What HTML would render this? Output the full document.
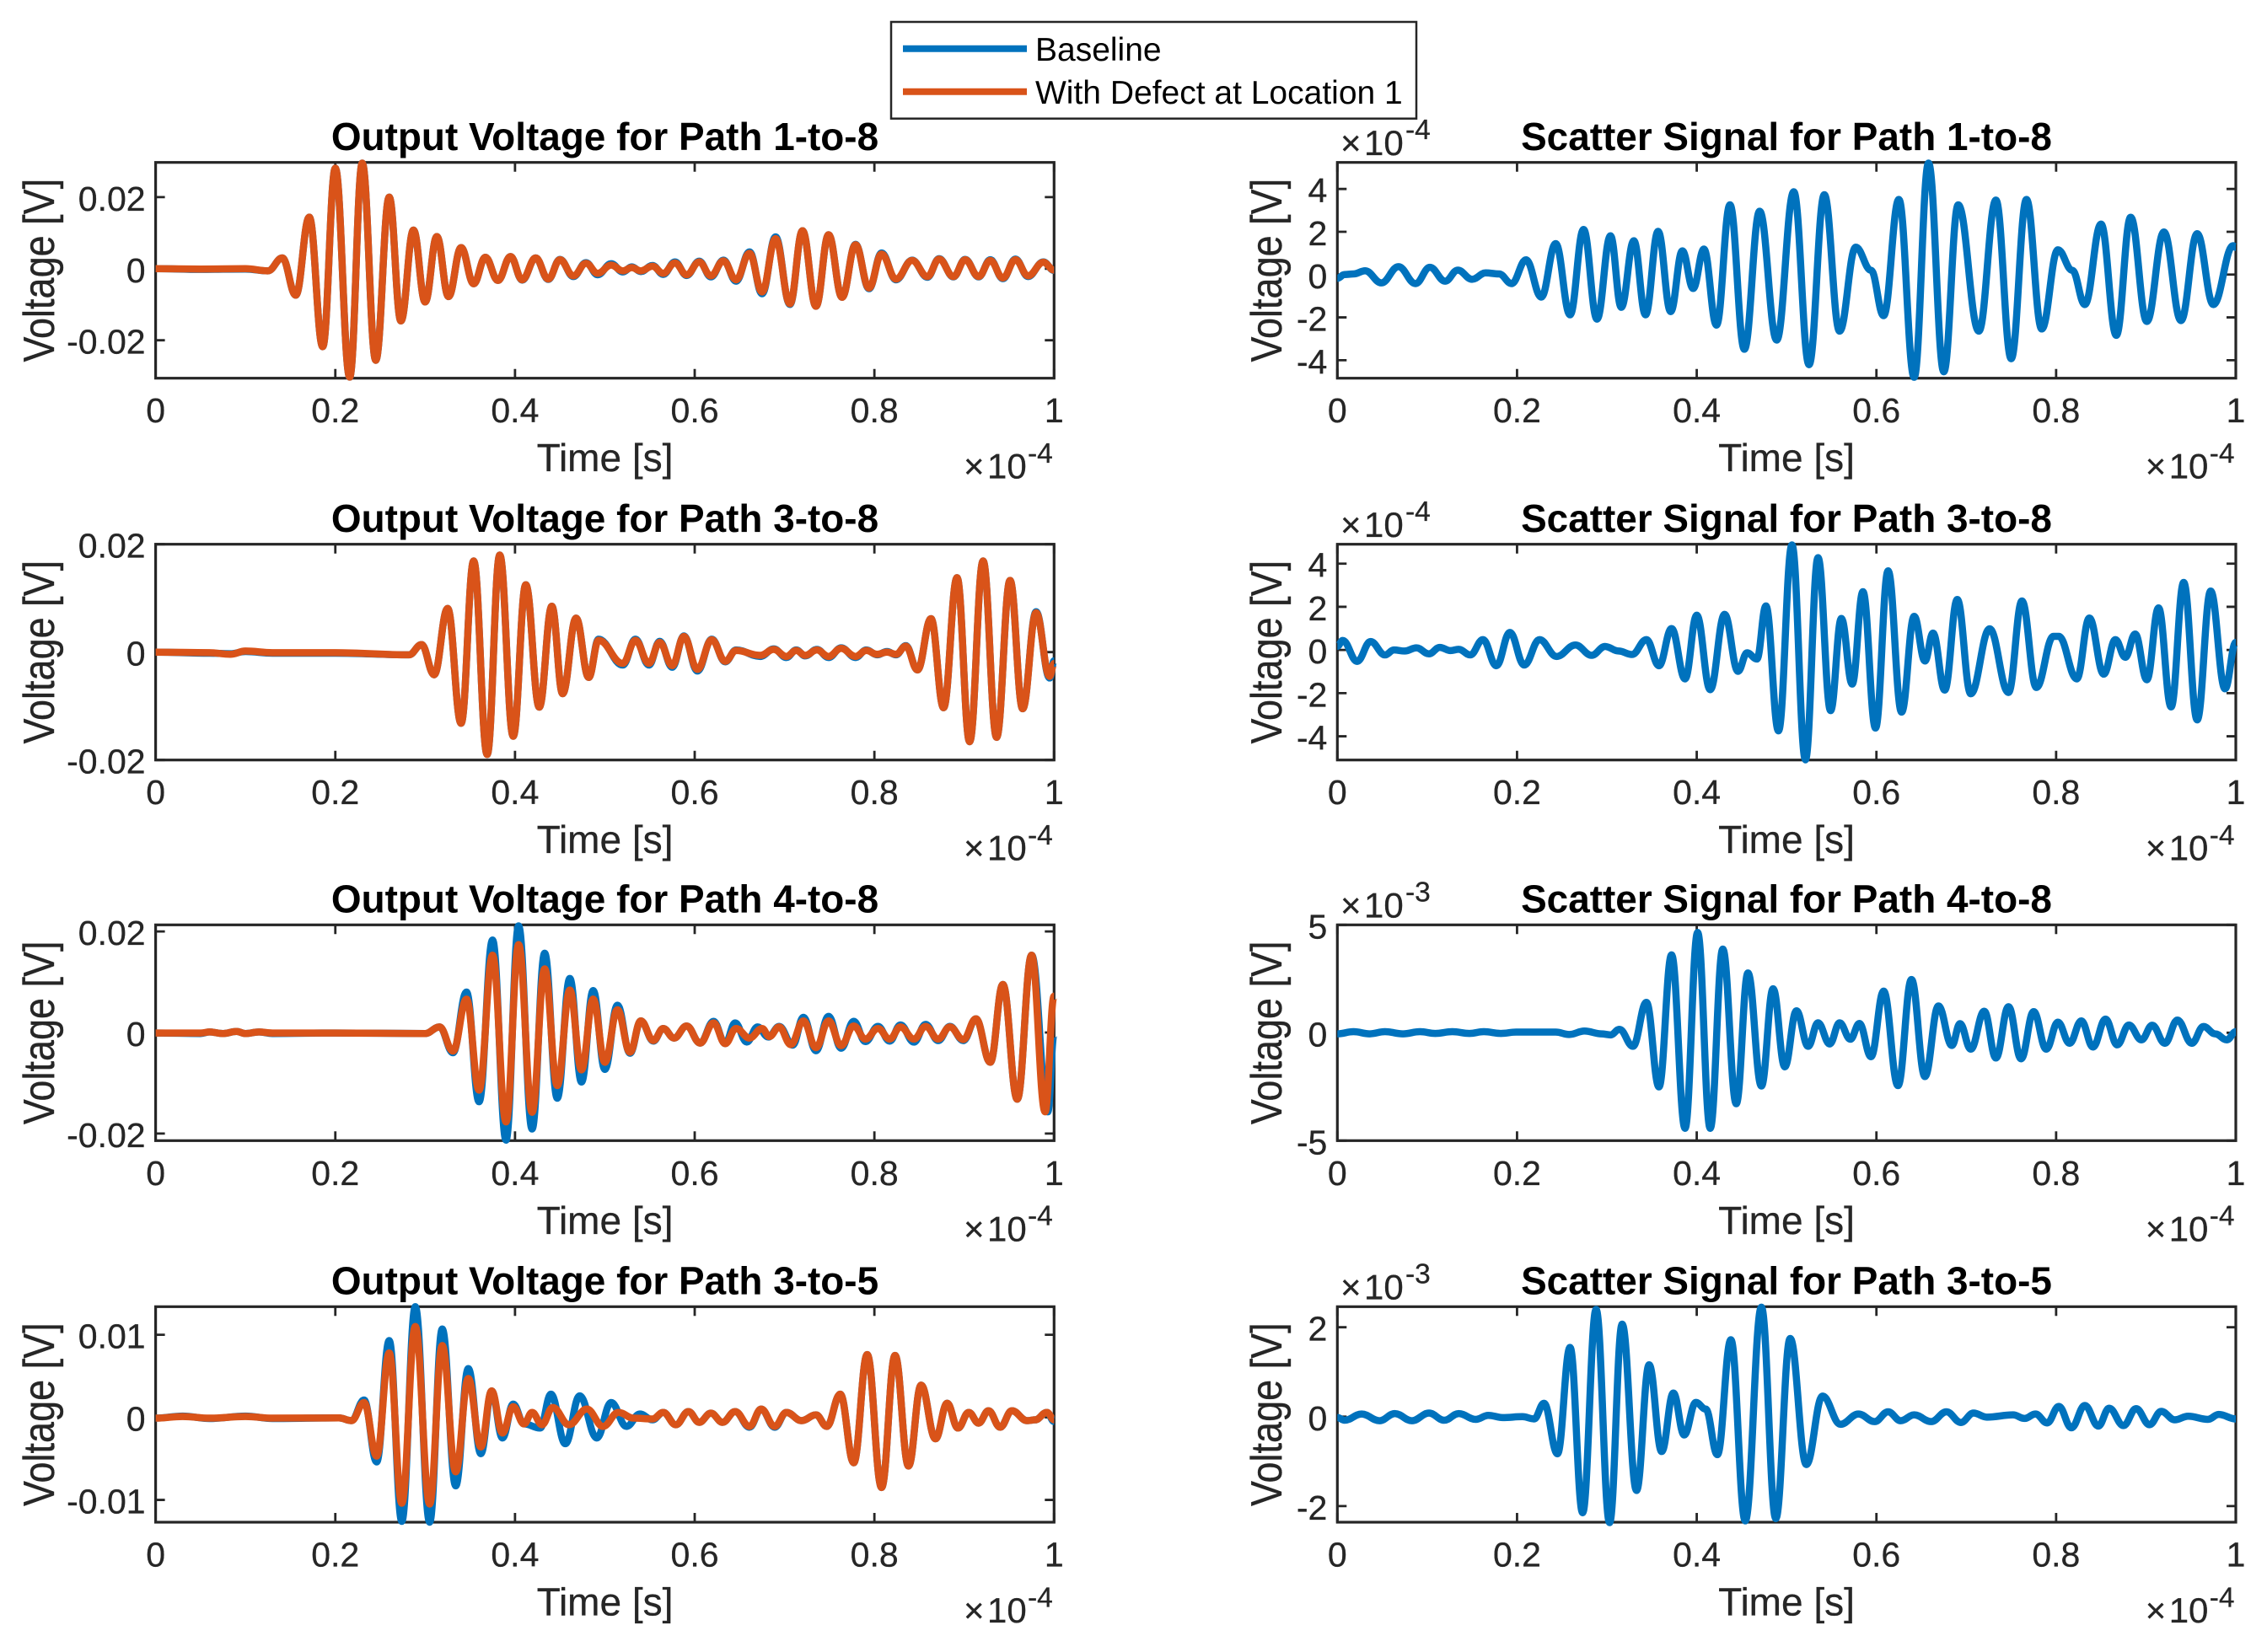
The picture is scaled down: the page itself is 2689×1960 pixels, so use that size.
<!DOCTYPE html>
<html lang="en">
<head>
<meta charset="utf-8">
<title>Output Voltage and Scatter Signal by Path</title>
<style>
html,body{margin:0;padding:0;background:#fff;}
svg{display:block;font-family:"Liberation Sans",Arial,sans-serif;}
.title{font-size:45.9px;font-weight:bold;fill:#000;text-anchor:middle;}
.xlab{font-size:46px;fill:#262626;text-anchor:middle;stroke:#262626;stroke-width:.3px;}
.ylab{font-size:45px;fill:#262626;text-anchor:middle;stroke:#262626;stroke-width:.3px;}
.mag{font-size:42px;fill:#262626;stroke:#262626;stroke-width:.3px;}
.magexp{font-size:33.5px;fill:#262626;stroke:#262626;stroke-width:.3px;}
.leg{font-size:39px;fill:#000;}
.tick{font-size:41px;fill:#262626;stroke:#262626;stroke-width:.3px;}
</style>
</head>
<body>
<svg id="figure" width="2689" height="1960" viewBox="0 0 2689 1960" xmlns="http://www.w3.org/2000/svg">
<rect x="0" y="0" width="2689" height="1960" fill="#fff"/>
<g id="plots"></g>

<g>
<text class="title" x="717.5" y="178">Output Voltage for Path 1-to-8</text>
<text class="title" x="717.5" y="631">Output Voltage for Path 3-to-8</text>
<text class="title" x="717.5" y="1082.6">Output Voltage for Path 4-to-8</text>
<text class="title" x="717.5" y="1535.6">Output Voltage for Path 3-to-5</text>

<text class="xlab" x="717.5" y="559.2">Time [s]</text>
<text class="xlab" x="717.5" y="1012.2">Time [s]</text>
<text class="xlab" x="717.5" y="1463.8">Time [s]</text>
<text class="xlab" x="717.5" y="1916.5">Time [s]</text>

<text class="ylab" transform="translate(64 320.7) rotate(-90) scale(1 1.15)">Voltage [V]</text>
<text class="ylab" transform="translate(64 773.7) rotate(-90) scale(1 1.15)">Voltage [V]</text>
<text class="ylab" transform="translate(64 1225.3) rotate(-90) scale(1 1.15)">Voltage [V]</text>
<text class="ylab" transform="translate(64 1678.2) rotate(-90) scale(1 1.15)">Voltage [V]</text>

<g><text class="mag" x="1143" y="567.7">×<tspan x="1171">10</tspan></text><text class="magexp" x="1219" y="549">-4</text></g>
<g><text class="mag" x="1143" y="1020.7">×<tspan x="1171">10</tspan></text><text class="magexp" x="1219" y="1002">-4</text></g>
<g><text class="mag" x="1143" y="1472.3">×<tspan x="1171">10</tspan></text><text class="magexp" x="1219" y="1453.6">-4</text></g>
<g><text class="mag" x="1143" y="1925">×<tspan x="1171">10</tspan></text><text class="magexp" x="1219" y="1906.3">-4</text></g>
</g>

<g>
<text class="title" x="2119" y="178">Scatter Signal for Path 1-to-8</text>
<text class="title" x="2119" y="631">Scatter Signal for Path 3-to-8</text>
<text class="title" x="2119" y="1082.6">Scatter Signal for Path 4-to-8</text>
<text class="title" x="2119" y="1535.6">Scatter Signal for Path 3-to-5</text>

<text class="xlab" x="2119" y="559.2">Time [s]</text>
<text class="xlab" x="2119" y="1012.2">Time [s]</text>
<text class="xlab" x="2119" y="1463.8">Time [s]</text>
<text class="xlab" x="2119" y="1916.5">Time [s]</text>

<text class="ylab" transform="translate(1520 320.7) rotate(-90) scale(1 1.15)">Voltage [V]</text>
<text class="ylab" transform="translate(1520 773.7) rotate(-90) scale(1 1.15)">Voltage [V]</text>
<text class="ylab" transform="translate(1520 1225.3) rotate(-90) scale(1 1.15)">Voltage [V]</text>
<text class="ylab" transform="translate(1520 1678.2) rotate(-90) scale(1 1.15)">Voltage [V]</text>

<g><text class="mag" x="2544.7" y="567.7">×<tspan x="2572.7">10</tspan></text><text class="magexp" x="2620.7" y="549">-4</text></g>
<g><text class="mag" x="2544.7" y="1020.7">×<tspan x="2572.7">10</tspan></text><text class="magexp" x="2620.7" y="1002">-4</text></g>
<g><text class="mag" x="2544.7" y="1472.3">×<tspan x="2572.7">10</tspan></text><text class="magexp" x="2620.7" y="1453.6">-4</text></g>
<g><text class="mag" x="2544.7" y="1925">×<tspan x="2572.7">10</tspan></text><text class="magexp" x="2620.7" y="1906.3">-4</text></g>

<g><text class="mag" x="1590" y="184">×<tspan x="1618">10</tspan></text><text class="magexp" x="1667" y="165">-4</text></g>
<g><text class="mag" x="1590" y="637">×<tspan x="1618">10</tspan></text><text class="magexp" x="1667" y="618">-4</text></g>
<g><text class="mag" x="1590" y="1088.6">×<tspan x="1618">10</tspan></text><text class="magexp" x="1667" y="1069.6">-3</text></g>
<g><text class="mag" x="1590" y="1541.6">×<tspan x="1618">10</tspan></text><text class="magexp" x="1667" y="1522.6">-3</text></g>
</g>

<g>
<rect x="1057" y="26" width="623" height="114.7" fill="#fff" stroke="#262626" stroke-width="2.5"/>
<line x1="1071" y1="57.7" x2="1218" y2="57.7" stroke="#0072BD" stroke-width="8"/>
<line x1="1071" y1="108.7" x2="1218" y2="108.7" stroke="#D95319" stroke-width="8"/>
<text class="leg" x="1228" y="72">Baseline</text>
<text class="leg" x="1228" y="123">With Defect at Location 1</text>
</g>
</svg>

<script>
/* Time values are in units of 1e-4 s. Output voltages are in mV. Scatter values are in the axis multiplier units. */
const xTickValues = [0, 0.2, 0.4, 0.6, 0.8, 1];
const xTickLabels = ["0", "0.2", "0.4", "0.6", "0.8", "1"];

/* Output 1-to-8 */
const time1 = [0,.05,.10,.125,.141,.156,.171,.186,.200,.216,.230,.245,.260,.273,.287,.300,.313,.326,.340,.354,.367,.381,.395,.408,.423,.437,.450,.465,.479,.492,.507,.520,.530,.540,.553,.565,.578,.591,.605,.618,.632,.646,.661,.675,.690,.706,.720,.735,.749,.764,.779,.794,.808,.824,.842,.859,.872,.888,.901,.916,.929,.943,.957,.971,.988,1];
const defect1 = [0,-.1,0,-.6,3.0,-7.4,14.4,-21.8,28.1,-30.3,29.5,-25.6,20.0,-14.6,10.8,-9.3,9.0,-7.8,5.9,-4.2,3.2,-3.3,3.4,-3.1,3.0,-2.9,2.5,-2.0,1.5,-1.3,1.0,-.6,.3,-.6,.7,-1.3,1.6,-1.7,1.9,-2.0,2.2,-3.1,4.3,-6.5,8.4,-9.8,10.6,-10.5,9.5,-8.0,6.7,-5.4,4.1,-2.9,2.3,-2.2,2.7,-2.2,2.5,-2.2,2.3,-2.6,2.5,-2.0,1.8,-.4];
const baseline1 = [0,-.2,-.1,-.6,3.0,-7.4,14.4,-21.8,28.1,-30.3,29.5,-25.6,20.0,-14.6,10.8,-9.3,9.0,-7.8,5.9,-4.2,3.2,-3.3,3.4,-3.2,3.0,-3.0,2.6,-2.2,1.7,-1.7,1.4,-.9,.5,-.8,.9,-1.6,1.9,-1.9,2.1,-2.3,2.4,-3.5,4.7,-7.0,8.9,-10,10.6,-10.5,9.5,-8.0,6.8,-5.6,4.4,-3.1,2.4,-2.4,2.8,-2.3,2.6,-2.3,2.5,-2.8,2.7,-2.2,1.9,-.5];

/* Output 3-to-8 */
const time2 = [0,.06,.083,.10,.13,.2,.282,.296,.310,.325,.340,.354,.369,.383,.398,.412,.427,.441,.453,.468,.482,.493,.520,.534,.549,.561,.575,.588,.603,.619,.634,.646,.673,.688,.702,.713,.723,.736,.749,.763,.779,.791,.803,.814,.824,.835,.848,.863,.877,.892,.906,.921,.936,.951,.965,.980,.995,1];
const defect2 = [0,-.1,-.4,.2,-.1,-.1,-.5,1.4,-4.2,8.1,-13.2,16.9,-19.0,18.0,-15.6,12.5,-10.2,8.5,-7.7,6.3,-4.7,2.2,-2.1,2.2,-2.1,1.8,-2.5,2.9,-3.2,2.3,-1.7,.3,-.6,.5,-.8,.3,-.6,.4,-.8,.7,-.8,.3,-.4,0,-.4,1.1,-3.3,6.2,-10.3,13.8,-16.6,16.9,-15.8,13.3,-10.5,7.3,-4.5,-2.1];
const baseline2 = [0,-.2,-.3,.1,-.2,-.2,-.5,1.4,-4.2,8.1,-13.2,16.9,-19.0,18.0,-15.6,12.5,-10.2,8.5,-7.7,6.3,-4.7,2.4,-2.4,2.4,-2.4,2.0,-2.8,3.0,-3.5,2.4,-1.8,.4,-.8,.6,-1.0,.4,-.7,.5,-1.0,.8,-1.0,.4,-.5,.1,-.5,1.2,-3.3,6.2,-10.3,13.8,-16.6,16.9,-15.8,13.3,-10.5,7.5,-4.8,-1.6];

/* Output 4-to-8 */
const time3Defect = [0,.05,.06,.075,.09,.10,.115,.13,.2,.300,.316,.331,.346,.360,.375,.390,.404,.419,.433,.447,.461,.474,.487,.500,.514,.528,.540,.554,.565,.577,.591,.606,.621,.634,.646,.661,.675,.683,.694,.707,.721,.735,.749,.763,.777,.790,.804,.817,.829,.844,.857,.871,.884,.899,.913,.929,.943,.959,.975,.990,1];
const defect3 = [-.1,-.1,.1,-.2,.2,-.2,.1,-.1,-.1,-.2,1.1,-3.7,6.6,-11.4,15.3,-17.7,17.4,-15.8,12.6,-10.5,8.4,-7.4,6.6,-5.9,4.5,-3.9,2.3,-1.6,.8,-1.1,1.3,-2.1,1.9,-2.2,.8,-1.1,.8,-.8,1.1,-2.4,2.3,-3.0,2.3,-2.6,1.3,-1.3,.8,-1.3,1.1,-1.3,1.2,-1.3,1.1,-1.4,2.7,-5.9,9.5,-13.2,15.3,-15.7,7.2];
const time3Base = [0,.05,.06,.075,.09,.10,.115,.13,.2,.300,.316,.331,.346,.360,.375,.390,.404,.419,.433,.447,.461,.474,.487,.500,.514,.528,.540,.554,.565,.577,.591,.606,.621,.634,.645,.658,.670,.682,.694,.709,.721,.735,.749,.763,.777,.790,.804,.817,.829,.844,.857,.871,.884,.899,.913,.929,.943,.959,.975,.993,1];
const baseline3 = [-.1,-.2,.1,-.2,.2,-.2,.1,-.2,-.1,-.2,1.1,-4.0,8.0,-13.7,18.3,-21.3,21.1,-19.1,15.7,-13.0,10.7,-9.8,8.3,-7.3,5.4,-4.1,2.3,-1.7,.8,-1.1,1.3,-2.1,2.2,-2.2,1.9,-1.9,1.1,-.9,1.2,-2.5,3.0,-3.6,3.2,-3.1,2.2,-1.8,1.2,-1.7,1.5,-1.9,1.6,-1.6,1.2,-1.6,2.7,-5.9,9.5,-13.2,15.3,-15.7,-.3];

/* Output 3-to-5 */
const time4Defect = [0,.03,.06,.10,.13,.204,.218,.232,.246,.260,.274,.289,.305,.319,.334,.348,.362,.374,.386,.398,.410,.419,.430,.442,.460,.480,.498,.515,.532,.553,.565,.579,.593,.605,.618,.631,.645,.661,.674,.689,.702,.719,.735,.747,.762,.777,.792,.808,.823,.838,.852,.868,.881,.893,.905,.916,.927,.940,.953,.970,.979,.992,1];
const defect4 = [-.1,.1,-.1,.1,-.1,-.07,-.4,1.8,-4.7,7.8,-10.4,11.0,-10.5,8.7,-6.6,4.7,-3.6,3.2,-1.9,1.3,-.8,.6,-.9,1.2,-.9,1.0,-1.1,.6,-.1,-.2,.6,-.9,.7,-.6,.5,-.6,.7,-1.1,1.0,-1.1,.6,-.4,.3,-1.1,2.8,-5.5,7.6,-8.5,7.5,-5.9,3.9,-2.6,1.7,-1.3,.6,-.7,.8,-1.2,.8,-.4,-.3,.6,-.3];
const time4Base = [0,.03,.06,.10,.13,.204,.218,.232,.246,.260,.274,.289,.305,.319,.334,.348,.362,.374,.386,.398,.410,.428,.440,.456,.472,.491,.507,.524,.539,.553,.565,.579,.593,.605,.618,.631,.645,.661,.674,.689,.702,.719,.735,.747,.762,.777,.792,.808,.823,.838,.852,.868,.881,.893,.905,.916,.927,.940,.953,.970,.979,.992,1];
const baseline4 = [-.1,.15,-.15,.15,-.15,-.07,-.4,2.1,-5.4,9.3,-12.6,13.4,-12.7,10.7,-8.3,5.9,-4.4,3.2,-2.5,1.6,-.8,-1.3,2.8,-3.2,2.6,-2.5,1.8,-1.1,.4,-.3,.6,-.9,.7,-.6,.5,-.6,.7,-1.2,1.0,-1.2,.6,-.4,.3,-1.1,2.8,-5.5,7.6,-8.5,7.5,-5.9,3.9,-2.6,1.7,-1.3,.6,-.7,.8,-1.2,.8,-.4,-.3,.6,-.5];

/* Scatter 1-to-8 (x 1e-4) */
const time5 = [0,.008,.018,.031,.049,.068,.087,.103,.120,.134,.150,.165,.180,.194,.210,.227,.243,.259,.274,.289,.304,.316,.330,.343,.357,.371,.384,.396,.408,.422,.437,.453,.470,.489,.508,.525,.542,.559,.577,.594,.608,.625,.642,.658,.675,.691,.714,.733,.750,.767,.784,.802,.818,.832,.850,.867,.883,.901,.920,.939,.957,.975,.997,1];
const scatter5 = [-.17,0,.03,.18,-.39,.37,-.42,.34,-.31,.21,-.22,.08,.03,-.42,.69,-1.05,1.45,-1.88,2.11,-2.08,1.81,-1.53,1.58,-1.88,2.02,-1.73,1.11,-.65,1.19,-2.36,3.26,-3.49,2.96,-3.06,3.87,-4.21,3.73,-2.64,1.28,.2,-1.92,3.51,-4.80,5.21,-4.54,3.26,-2.64,3.48,-3.93,3.51,-2.54,1.16,.2,-1.40,2.36,-2.84,2.68,-2.19,1.99,-2.15,1.91,-1.40,1.35,1.27];

/* Scatter 3-to-8 (x 1e-4) */
const time6 = [0,.006,.022,.037,.053,.063,.075,.088,.102,.114,.126,.135,.148,.162,.177,.192,.208,.225,.244,.265,.283,.298,.313,.328,.344,.358,.372,.387,.400,.415,.431,.446,.456,.467,.477,.491,.506,.521,.535,.549,.561,.573,.585,.599,.613,.628,.642,.654,.663,.676,.690,.705,.726,.747,.762,.778,.797,.803,.823,.837,.853,.866,.877,.888,.901,.914,.928,.942,.957,.972,.988,1];
const scatter6 = [.17,.44,-.53,.39,-.23,0,-.05,.10,-.18,.12,-.03,.03,-.23,.48,-.73,.81,-.70,.48,-.30,.23,-.25,.16,-.05,-.21,.48,-.73,.99,-1.34,1.61,-1.84,1.65,-.99,-.13,-.42,2.04,-3.75,4.87,-5.09,4.28,-2.81,1.46,-1.58,2.70,-3.62,3.67,-2.88,1.56,-.51,.78,-1.86,2.34,-2.03,.98,-1.97,2.27,-1.74,.63,.63,-1.34,1.48,-1.12,.48,-.34,.74,-1.38,1.95,-2.64,3.13,-3.24,2.73,-1.80,.35];

/* Scatter 4-to-8 (x 1e-3) */
const time7 = [0,.018,.036,.053,.073,.092,.109,.128,.147,.163,.182,.199,.243,.258,.275,.294,.304,.314,.329,.344,.358,.372,.387,.401,.415,.429,.444,.457,.472,.485,.498,.511,.524,.535,.548,.559,.571,.581,.594,.608,.624,.639,.654,.669,.684,.693,.705,.720,.733,.747,.761,.775,.789,.802,.815,.828,.841,.855,.868,.881,.895,.907,.921,.935,.951,.964,.977,.990,1];
const scatter7 = [-.05,.05,-.05,.05,-.05,.05,-.03,.05,-.03,.05,-.03,.03,.03,-.08,.08,-.05,-.1,.16,-.63,1.41,-2.51,3.61,-4.43,4.65,-4.43,3.88,-3.29,2.77,-2.47,2.04,-1.58,1.02,-.63,.46,-.52,.46,-.30,.43,-1.11,1.93,-2.45,2.47,-2.03,1.24,-.59,.42,-.76,1.00,-1.17,1.21,-1.21,.98,-.76,.49,-.49,.55,-.66,.63,-.56,.36,-.33,.35,-.49,.59,-.49,.29,-.05,-.33,.05];

/* Scatter 3-to-5 (x 1e-3) */
const time8 = [0,.008,.027,.047,.064,.083,.102,.119,.135,.154,.168,.184,.206,.219,.230,.245,.259,.273,.288,.303,.317,.333,.347,.361,.374,.386,.399,.410,.423,.438,.454,.472,.488,.504,.522,.540,.560,.580,.598,.613,.627,.642,.661,.678,.694,.708,.723,.752,.765,.777,.790,.803,.817,.832,.847,.859,.875,.889,.904,.917,.932,.947,.969,.981,1];
const scatter8 = [-.02,-.08,.06,-.09,.07,-.09,.08,-.08,.07,-.06,.03,-.02,0,-.05,.30,-.83,1.55,-2.15,2.40,-2.37,2.07,-1.65,1.16,-.78,.53,-.41,.32,.17,-.85,1.72,-2.33,2.45,-2.28,1.75,-1.07,.46,-.17,.06,-.11,.11,-.09,.04,-.11,.11,-.13,.08,-.01,.04,-.04,.06,-.14,.23,-.25,.25,-.21,.19,-.20,.18,-.18,.12,-.07,.01,-.06,.05,-.05];

/* Y tick values and labels */
const yTicks1 = [-20, 0, 20];
const yLabels1 = ["-0.02", "0", "0.02"];
const yTicks2 = [-20, 0, 20];
const yLabels2 = ["-0.02", "0", "0.02"];
const yTicks3 = [-20, 0, 20];
const yLabels3 = ["-0.02", "0", "0.02"];
const yTicks4 = [-10, 0, 10];
const yLabels4 = ["-0.01", "0", "0.01"];
const yTicks5 = [-4, -2, 0, 2, 4];
const yLabels5 = ["-4", "-2", "0", "2", "4"];
const yTicks6 = [-4, -2, 0, 2, 4];
const yLabels6 = ["-4", "-2", "0", "2", "4"];
const yTicks7 = [-5, 0, 5];
const yLabels7 = ["-5", "0", "5"];
const yTicks8 = [-2, 0, 2];
const yLabels8 = ["-2", "0", "2"];

/* Y axis limits */
const yLimits1 = [-30.6, 29.7];
const yLimits2 = [-20, 20];
const yLimits3 = [-21.4, 21.3];
const yLimits4 = [-12.7, 13.4];
const yLimits5 = [-4.84, 5.24];
const yLimits6 = [-5.1, 4.9];
const yLimits7 = [-5, 5];
const yLimits8 = [-2.36, 2.46];

const SVGNS = "http://www.w3.org/2000/svg";
const BLUE = "#0072BD";
const ORANGE = "#D95319";
const INK = "#262626";
const columnLeft = [184.6, 1586.3];
const columnRight = [1250.3, 2652];
const rowTop = [192.7, 645.7, 1097.3, 1550.3];
const rowBottom = [448.7, 901.7, 1353.3, 1806];
const TICK_LEN = 11;

const panels = [
  {key:"output-1-to-8", col:0, row:0, lim:yLimits1, ticks:yTicks1, labels:yLabels1, series:[{t:time1, v:baseline1, c:BLUE, n:"baseline"},{t:time1, v:defect1, c:ORANGE, n:"defect"}]},
  {key:"output-3-to-8", col:0, row:1, lim:yLimits2, ticks:yTicks2, labels:yLabels2, series:[{t:time2, v:baseline2, c:BLUE, n:"baseline"},{t:time2, v:defect2, c:ORANGE, n:"defect"}]},
  {key:"output-4-to-8", col:0, row:2, lim:yLimits3, ticks:yTicks3, labels:yLabels3, series:[{t:time3Base, v:baseline3, c:BLUE, n:"baseline"},{t:time3Defect, v:defect3, c:ORANGE, n:"defect"}]},
  {key:"output-3-to-5", col:0, row:3, lim:yLimits4, ticks:yTicks4, labels:yLabels4, series:[{t:time4Base, v:baseline4, c:BLUE, n:"baseline"},{t:time4Defect, v:defect4, c:ORANGE, n:"defect"}]},
  {key:"scatter-1-to-8", col:1, row:0, lim:yLimits5, ticks:yTicks5, labels:yLabels5, series:[{t:time5, v:scatter5, c:BLUE, n:"scatter"}]},
  {key:"scatter-3-to-8", col:1, row:1, lim:yLimits6, ticks:yTicks6, labels:yLabels6, series:[{t:time6, v:scatter6, c:BLUE, n:"scatter"}]},
  {key:"scatter-4-to-8", col:1, row:2, lim:yLimits7, ticks:yTicks7, labels:yLabels7, series:[{t:time7, v:scatter7, c:BLUE, n:"scatter"}]},
  {key:"scatter-3-to-5", col:1, row:3, lim:yLimits8, ticks:yTicks8, labels:yLabels8, series:[{t:time8, v:scatter8, c:BLUE, n:"scatter"}]}
];

function make(tag, attrs) {
  const node = document.createElementNS(SVGNS, tag);
  for (const k in attrs) node.setAttribute(k, attrs[k]);
  return node;
}

function curvePath(ts, vs, xScale, yScale) {
  let d = "M" + xScale(ts[0]).toFixed(2) + " " + yScale(vs[0]).toFixed(2);
  for (let i = 1; i < ts.length; i++) {
    const x0 = xScale(ts[i - 1]), x1 = xScale(ts[i]);
    const y0 = yScale(vs[i - 1]), y1 = yScale(vs[i]);
    const c = (x1 - x0) * 0.4;
    d += "C" + (x0 + c).toFixed(2) + " " + y0.toFixed(2) + " " + (x1 - c).toFixed(2) + " " + y1.toFixed(2) + " " + x1.toFixed(2) + " " + y1.toFixed(2);
  }
  return d;
}

const plotsRoot = document.getElementById("plots");

panels.forEach(function (p) {
  const L = columnLeft[p.col], R = columnRight[p.col];
  const T = rowTop[p.row], B = rowBottom[p.row];
  const xScale = function (t) { return L + t * (R - L); };
  const yScale = function (v) { return T + (p.lim[1] - v) / (p.lim[1] - p.lim[0]) * (B - T); };

  const group = make("g", {});
  
  
  plotsRoot.appendChild(group);

  const frame = make("rect", {x: L, y: T, width: R - L, height: B - T, fill: "#fff", stroke: INK, "stroke-width": 3.2});
  
  
  group.appendChild(frame);

  xTickValues.forEach(function (tv, i) {
    const x = xScale(tv);
    const mark = make("path", {d: "M" + x + " " + B + "V" + (B - TICK_LEN) + "M" + x + " " + T + "V" + (T + TICK_LEN), stroke: INK, "stroke-width": 2.8, fill: "none"});
    
    
    group.appendChild(mark);
    const label = make("text", {x: x, y: B + 52.5, "text-anchor": "middle", "class": "tick"});
    
    
    label.textContent = xTickLabels[i];
    group.appendChild(label);
  });

  p.ticks.forEach(function (tv, i) {
    const y = yScale(tv);
    const mark = make("path", {d: "M" + L + " " + y + "H" + (L + TICK_LEN) + "M" + R + " " + y + "H" + (R - TICK_LEN), stroke: INK, "stroke-width": 2.8, fill: "none"});
    
    
    group.appendChild(mark);
    const label = make("text", {x: L - 12, y: y + 16, "text-anchor": "end", "class": "tick"});
    
    
    label.textContent = p.labels[i];
    group.appendChild(label);
  });

  p.series.forEach(function (s) {
    const line = make("path", {d: curvePath(s.t, s.v, xScale, yScale), fill: "none", stroke: s.c, "stroke-width": 8.5, "stroke-linejoin": "round", "stroke-linecap": "butt"});
    
    
    group.appendChild(line);
  });
});
</script>
</body>
</html>
